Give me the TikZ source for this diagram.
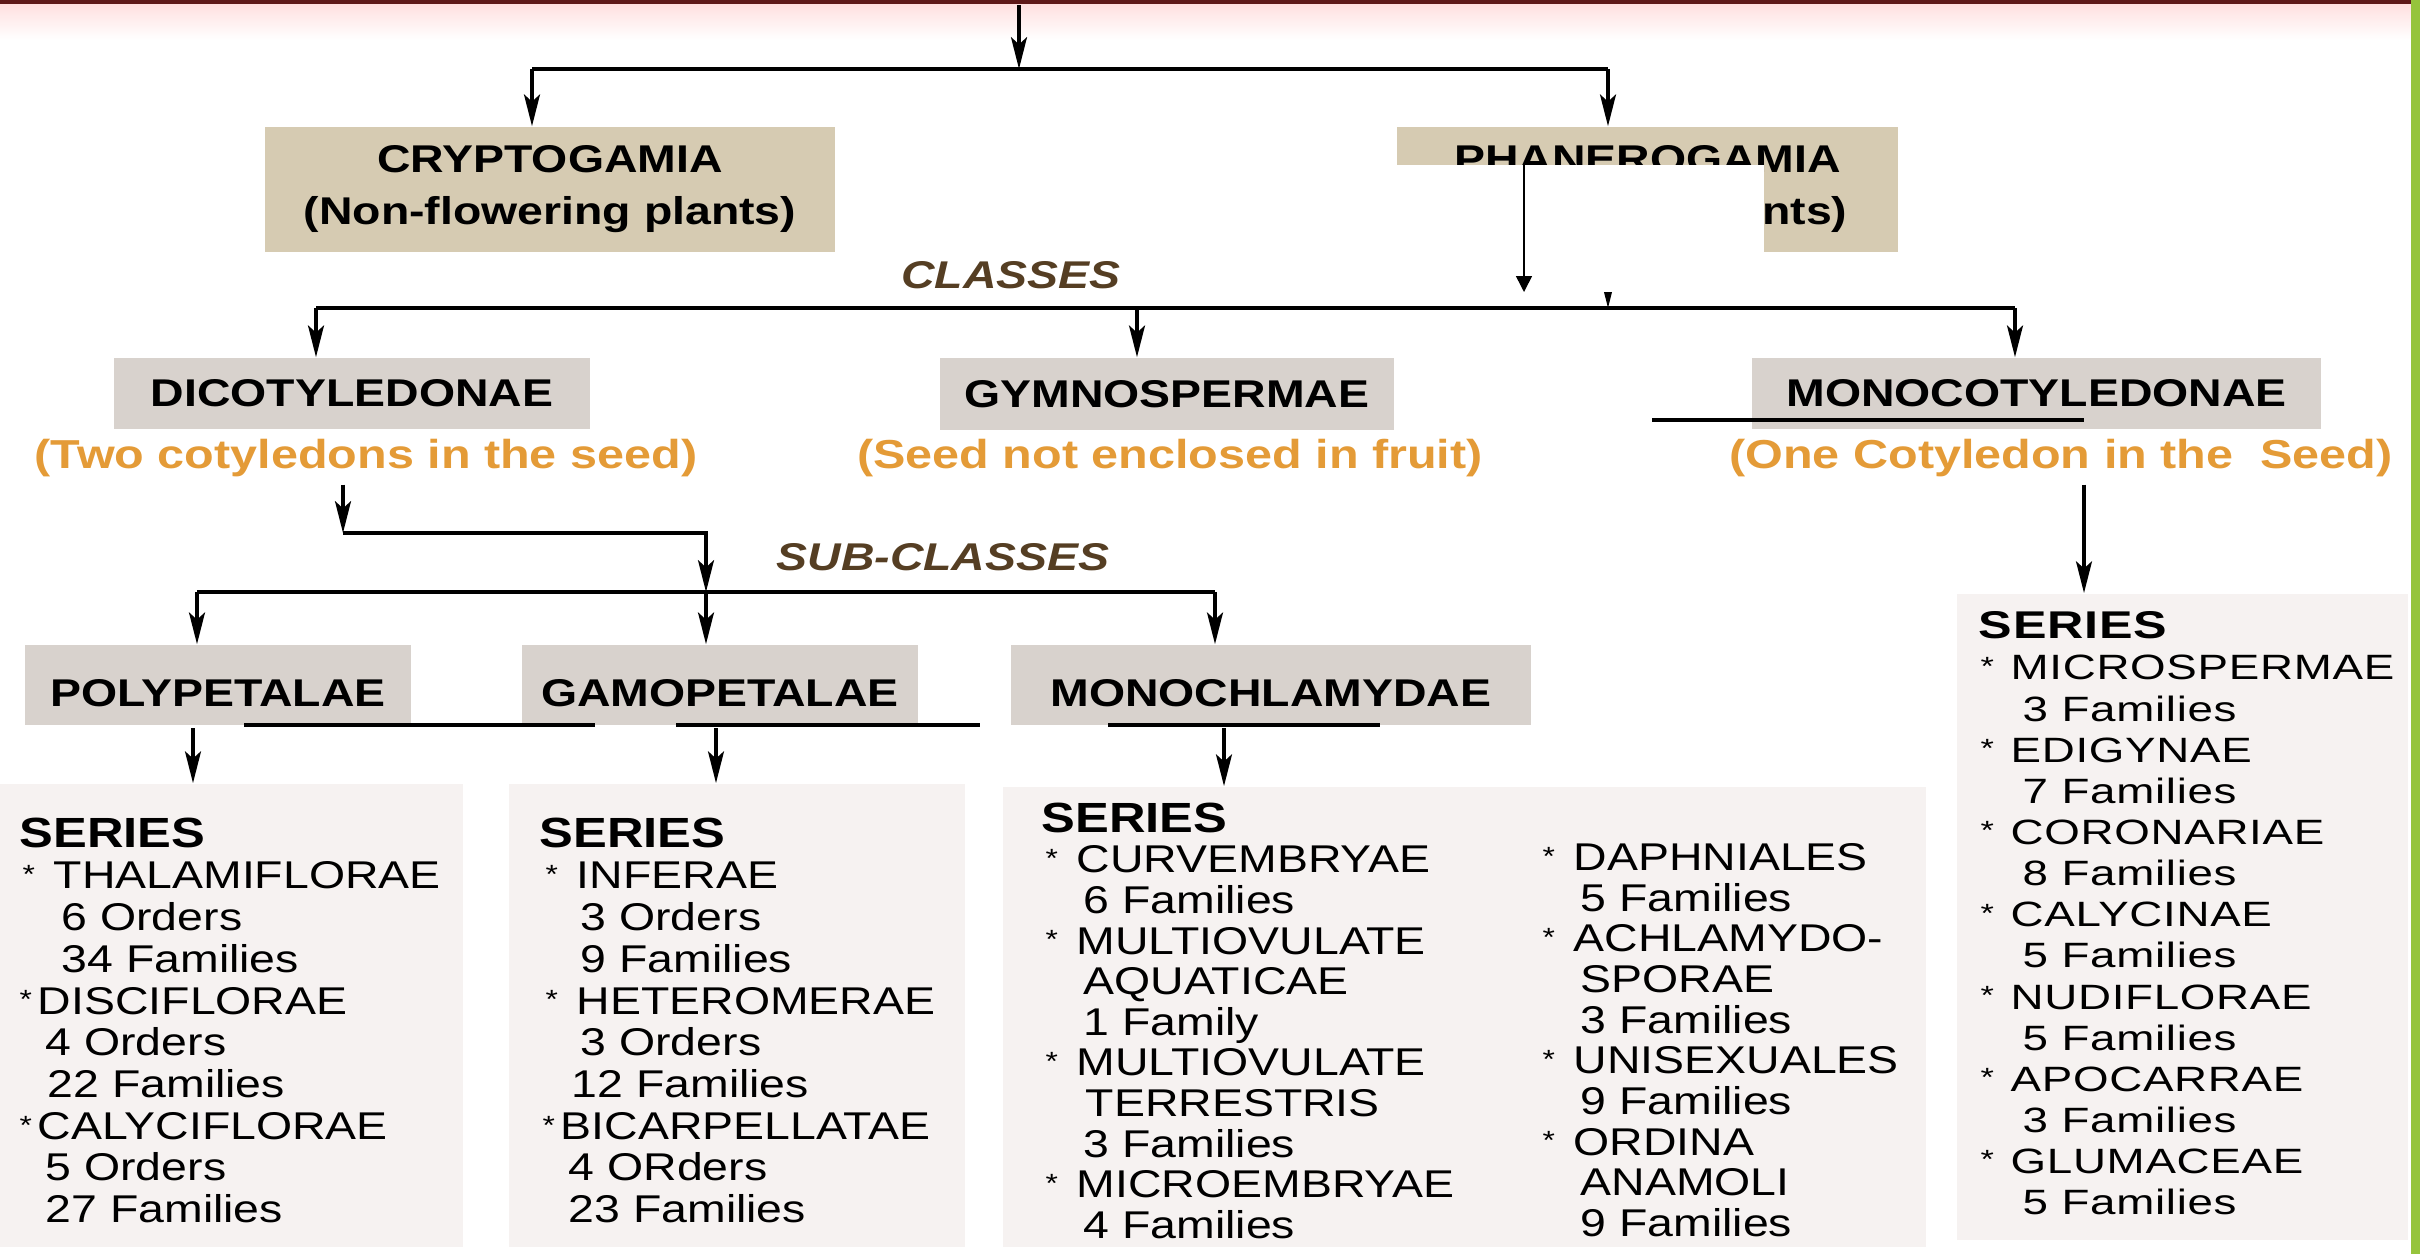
\documentclass[tikz,border=0pt]{standalone}
\usepackage{fontspec}
\setmainfont{Liberation Sans}[FakeStretch=1.2]
\newfontfamily\widefont{Liberation Sans}[FakeStretch=1.3,LetterSpace=2]
\usetikzlibrary{arrows.meta}

\definecolor{tanbox}{RGB}{214,203,178}
\definecolor{greybox}{RGB}{216,210,205}
\definecolor{serbg}{RGB}{246,242,241}
\definecolor{orangetxt}{RGB}{228,155,55}
\definecolor{browntxt}{RGB}{85,62,35}
\definecolor{barred}{RGB}{95,25,25}
\definecolor{bargreen}{RGB}{150,196,60}

\newcommand{\bul}{\makebox[0.47em][l]{\raisebox{0.25ex}{\fontsize{7.5}{8}\selectfont *}}}

\begin{document}
\begin{tikzpicture}[x=0.01cm,y=-0.01cm,
	heading/.style={ fill=greybox, inner sep=0pt, align=center, font=\fontsize{11}{13}\selectfont\bfseries },
	lowheading/.style={ heading, text height=12.5pt, text depth=0pt },
	bigheading/.style={ heading, fill=tanbox, font=\fontsize{11}{14.8}\selectfont\bfseries },
	note/.style={ text=orangetxt, inner sep=2pt, font=\fontsize{11.5}{13}\selectfont\bfseries },
	ranklabel/.style={ text=browntxt, inner sep=1pt, font=\fontsize{11}{13}\selectfont\bfseries\itshape },
	serbox/.style={ fill=serbg, inner sep=0pt },
	sertext/.style={ anchor=north west, inner sep=0pt, align=left, font=\fontsize{11}{11.86}\selectfont },
	arr/.style={ line width=1.2pt, -{Stealth[length=9pt,width=4.5pt,inset=2pt]} },
	bus/.style={ line width=1.2pt },
	stray/.style={ line width=0.9pt },
	thinarr/.style={ line width=0.45pt, -{Triangle[length=4.5pt,width=4.5pt]} }
]
\useasboundingbox (0,0) rectangle (2420,1254);

\fill[barred] (0,0) rectangle (2412,4);
\shade[top color=red!12, bottom color=white] (0,4) rectangle (2412,40);
\fill[bargreen] (2411,0) rectangle (2420,1254);

\node[bigheading, minimum width=5.70cm, minimum height=1.25cm] at (550,189.5) (crypto) {CRYPTOGAMIA\\(Non-flowering plants)};
\node[bigheading, minimum width=5.01cm, minimum height=1.25cm] at (1647.5,189.5) (phanero) {PHANEROGAMIA\\(Flowering plants)};

\node[ranklabel] at (1011,275) (classes) {CLASSES};

\node[heading, minimum width=4.76cm, minimum height=0.71cm] at (352,393.5) (dico) {DICOTYLEDONAE};
\node[heading, minimum width=4.54cm, minimum height=0.72cm] at (1167,394) (gymno) {GYMNOSPERMAE};
\node[heading, minimum width=5.69cm, minimum height=0.71cm] at (2036.5,393.5) (monocot) {MONOCOTYLEDONAE};

\node[note] at (366,458) (dicosub) {(Two cotyledons in the seed)};
\node[note] at (1170,458) (gymnosub) {(Seed not enclosed in fruit)};
\node[note] at (2061,458) (monosub) {(One Cotyledon in the \ Seed)};

\node[ranklabel] at (943,557) (subclasses) {SUB-CLASSES};

\node[lowheading, minimum width=3.86cm, minimum height=0.80cm] at (218,685) (poly) {POLYPETALAE};
\node[lowheading, minimum width=3.96cm, minimum height=0.80cm] at (720,685) (gamo) {GAMOPETALAE};
\node[lowheading, minimum width=5.20cm, minimum height=0.80cm] at (1271,685) (monochl) {MONOCHLAMYDAE};

\node[serbox, minimum width=4.63cm, minimum height=4.63cm] at (231.5,1015.5) (serpoly) {};
\node[serbox, minimum width=4.56cm, minimum height=4.63cm] at (737,1015.5) (sergamo) {};
\node[serbox, minimum width=9.23cm, minimum height=4.60cm] at (1464.5,1017) (sermono) {};
\node[serbox, minimum width=4.51cm, minimum height=6.46cm] at (2182.5,917) (sermonocot) {};

\node[sertext] at (19,817) (serpolyt) {{\fontsize{12}{11.86}\selectfont\bfseries SERIES}\\
	\hspace*{0.3mm}\bul\ THALAMIFLORAE\\
	\hspace*{4.2mm}6 Orders\\
	\hspace*{4.2mm}34 Families\\
	\bul DISCIFLORAE\\
	\hspace*{2.6mm}4 Orders\\
	\hspace*{2.8mm}22 Families\\
	\bul CALYCIFLORAE\\
	\hspace*{2.6mm}5 Orders\\
	\hspace*{2.6mm}27 Families};

\node[sertext] at (539,817) (sergamot) {{\fontsize{12}{11.86}\selectfont\bfseries SERIES}\\
	\hspace*{0.6mm}\bul\ INFERAE\\
	\hspace*{4.1mm}3 Orders\\
	\hspace*{4.1mm}9 Families\\
	\hspace*{0.6mm}\bul\ HETEROMERAE\\
	\hspace*{4.1mm}3 Orders\\
	\hspace*{3.2mm}12 Families\\
	\hspace*{0.3mm}\bul BICARPELLATAE\\
	\hspace*{2.9mm}4 ORders\\
	\hspace*{2.9mm}23 Families};

\node[sertext, font=\fontsize{11}{11.55}\selectfont] at (1041,802) (sermonot) {{\fontsize{12}{11.55}\selectfont\bfseries SERIES}\\
	\hspace*{0.4mm}\bul\ CURVEMBRYAE\\
	\hspace*{4.2mm}6 Families\\
	\hspace*{0.4mm}\bul\ MULTIOVULATE\\
	\hspace*{4.2mm}AQUATICAE\\
	\hspace*{4.2mm}1 Family\\
	\hspace*{0.4mm}\bul\ MULTIOVULATE\\
	\hspace*{4.4mm}TERRESTRIS\\
	\hspace*{4.2mm}3 Families\\
	\hspace*{0.4mm}\bul\ MICROEMBRYAE\\
	\hspace*{4.2mm}4 Families};

\node[sertext, font=\fontsize{11}{11.55}\selectfont] at (1542,843) (sermonotb) {\bul\ DAPHNIALES\\
	\hspace*{3.8mm}5 Families\\
	\bul\ ACHLAMYDO-\\
	\hspace*{3.8mm}SPORAE\\
	\hspace*{3.8mm}3 Families\\
	\bul\ UNISEXUALES\\
	\hspace*{3.8mm}9 Families\\
	\bul\ ORDINA\\
	\hspace*{3.8mm}ANAMOLI\\
	\hspace*{3.8mm}9 Families};

\node[sertext, font=\widefont\fontsize{10}{11.7}\selectfont] at (1978,611) (sermonocott) {{\fontsize{11}{11.7}\selectfont\bfseries SERIES}\\
	\hspace*{0.2mm}\bul\ MICROSPERMAE\\
	\hspace*{4.4mm}3 Families\\
	\hspace*{0.2mm}\bul\ EDIGYNAE\\
	\hspace*{4.4mm}7 Families\\
	\hspace*{0.2mm}\bul\ CORONARIAE\\
	\hspace*{4.4mm}8 Families\\
	\hspace*{0.2mm}\bul\ CALYCINAE\\
	\hspace*{4.4mm}5 Families\\
	\hspace*{0.2mm}\bul\ NUDIFLORAE\\
	\hspace*{4.4mm}5 Families\\
	\hspace*{0.2mm}\bul\ APOCARRAE\\
	\hspace*{4.4mm}3 Families\\
	\hspace*{0.2mm}\bul\ GLUMACEAE\\
	\hspace*{4.4mm}5 Families};

\coordinate (top) at (1019,5);
\coordinate (ja) at (1019,69);
\coordinate (jal) at (532,69);
\coordinate (jar) at (1608,69);
\draw[arr] (top) -- (ja);
\draw[bus] (jal) -- (jar);
\draw[arr] (jal) -- (crypto.north -| jal);
\draw[arr] (jar) -- (phanero.north -| jar);

\coordinate (jb) at (1608,308);
\coordinate (jbl) at (316,308);
\coordinate (jbm) at (1137,308);
\coordinate (jbr) at (2015,308);
\draw[arr] (phanero.south -| jb) -- (jb);
\draw[bus] (jbl) -- (jbr);
\draw[arr] (jbl) -- (dico.north -| jbl);
\draw[arr] (jbm) -- (gymno.north -| jbm);
\draw[arr] (jbr) -- (monocot.north -| jbr);

\coordinate (jc) at (343,533);
\coordinate (jd) at (706,592);
\coordinate (jdl) at (197,592);
\coordinate (jdr) at (1215,592);
\draw[arr] (dicosub.south -| jc) -- (jc);
\draw[arr] (jc) -| (jd);
\draw[bus] (jdl) -- (jdr);
\draw[arr] (jdl) -- (poly.north -| jdl);
\draw[arr] (jd) -- (gamo.north -| jd);
\draw[arr] (jdr) -- (monochl.north -| jdr);

\coordinate (ka) at (193,728);
\coordinate (kb) at (716,728);
\coordinate (kc) at (1224,728);
\coordinate (kd) at (2084,0);
\draw[arr] (ka) -- (ka |- serpoly.north);
\draw[arr] (kb) -- (kb |- sergamo.north);
\draw[arr] (kc) -- (kc |- sermono.north);
\draw[arr] (monosub.south -| kd) -- (kd |- sermonocot.north);

\fill[white] (1346,165) rectangle (1764,292);
\coordinate (wa) at (1524,165);
\coordinate (wb) at (1524,292);
\draw[thinarr] (wa) -- (wb);

\draw[stray] (244,725) -- (595,725);
\draw[stray] (676,725) -- (980,725);
\draw[stray] (1108,725) -- (1380,725);
\draw[stray] (1652,420) -- (2084,420);

\end{tikzpicture}
\end{document}
